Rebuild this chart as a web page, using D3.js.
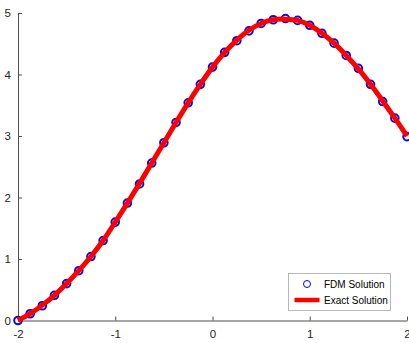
<!DOCTYPE html>
<html>
<head>
<meta charset="utf-8">
<script src="https://cdn.jsdelivr.net/npm/d3@7"></script>
<style>
  body { margin: 0; background: #fff; }
  svg { display: block; font-family: "Liberation Sans", Arial, sans-serif; }
</style>
</head>
<body>
<div id="chart"></div>
<script>
// grid points (h = 0.125)
const xValues = [-2, -1.875, -1.75, -1.625, -1.5, -1.375, -1.25, -1.125, -1,
  -0.875, -0.75, -0.625, -0.5, -0.375, -0.25, -0.125, 0,
  0.125, 0.25, 0.375, 0.5, 0.625, 0.75, 0.875, 1,
  1.125, 1.25, 1.375, 1.5, 1.625, 1.75, 1.875, 2];

// FDM solution
const fdmValues = [0, 0.11, 0.24, 0.41, 0.60, 0.81, 1.04, 1.30, 1.60,
  1.91, 2.22, 2.56, 2.89, 3.22, 3.54, 3.84, 4.12,
  4.36, 4.55, 4.71, 4.83, 4.89, 4.91, 4.88, 4.80,
  4.67, 4.51, 4.31, 4.10, 3.84, 3.56, 3.29, 2.99];

// exact solution (red curve)
const exactValues = [0, 0.11, 0.25, 0.41, 0.60, 0.81, 1.04, 1.30, 1.60,
  1.91, 2.23, 2.56, 2.89, 3.22, 3.54, 3.84, 4.12,
  4.36, 4.56, 4.72, 4.83, 4.89, 4.90, 4.88, 4.80,
  4.67, 4.51, 4.31, 4.09, 3.84, 3.57, 3.29, 3.00];

const xTicks = [-2, -1, 0, 1, 2];
const yTicks = [0, 1, 2, 3, 4, 5];
const legendLabels = ["FDM Solution", "Exact Solution"];

const width = 409, height = 343;

const svg = d3.select("#chart").append("svg")
    .attr("width", width)
    .attr("height", height);

const x = d3.scaleLinear().domain([-2, 2]).range([18, 407]);
const y = d3.scaleLinear().domain([0, 5]).range([320.5, 13]);

// plain hyphen for negatives, like the original
const fmt = d => String(d);

// axes (MATLAB style ticks pointing inward)
const xAxis = svg.append("g")
    .attr("transform", `translate(0,${y(0)})`)
    .call(d3.axisBottom(x).tickValues(xTicks).tickFormat(fmt)
        .tickSizeInner(-4).tickSizeOuter(0).tickPadding(9));

const yAxis = svg.append("g")
    .attr("transform", `translate(${x(-2)},0)`)
    .call(d3.axisLeft(y).tickValues(yTicks).tickFormat(fmt)
        .tickSizeInner(-4).tickSizeOuter(0).tickPadding(7));

[xAxis, yAxis].forEach(g => {
    g.select(".domain").attr("stroke", "#4d4d4d");
    g.selectAll(".tick line").attr("stroke", "#4d4d4d");
    g.selectAll(".tick text")
        .attr("fill", "#262626")
        .style("font-size", "11.5px")
        .style("font-family", "'Liberation Sans', Arial, sans-serif");
});

const fdm = xValues.map((d, i) => ({x: d, y: fdmValues[i]}));
const exact = xValues.map((d, i) => ({x: d, y: exactValues[i]}));

// circles first, red curve drawn over them
svg.append("g").selectAll("circle")
    .data(fdm)
    .enter().append("circle")
    .attr("cx", d => x(d.x))
    .attr("cy", d => y(d.y))
    .attr("r", 3.8)
    .attr("fill", "none")
    .attr("stroke", "#0a0ae6")
    .attr("stroke-width", 2);

const line = d3.line()
    .x(d => x(d.x))
    .y(d => y(d.y))
    .curve(d3.curveCatmullRom);

svg.append("path")
    .datum(exact)
    .attr("d", line)
    .attr("fill", "none")
    .attr("stroke", "#ff0000")
    .attr("stroke-width", 5)
    .attr("stroke-linejoin", "round");

// legend
const legend = svg.append("g").attr("transform", "translate(288.5,273.5)");
legend.append("rect")
    .attr("width", 102)
    .attr("height", 37)
    .attr("fill", "#fff")
    .attr("stroke", "#a6a6a6")
    .attr("stroke-width", 0.8);

legend.append("circle")
    .attr("cx", 18.5)
    .attr("cy", 10.5)
    .attr("r", 3.5)
    .attr("fill", "none")
    .attr("stroke", "#0000ff")
    .attr("stroke-width", 1);

legend.append("line")
    .attr("x1", 6).attr("x2", 31)
    .attr("y1", 26.5).attr("y2", 26.5)
    .attr("stroke", "#ff0000")
    .attr("stroke-width", 4.5);

legend.selectAll("text.lbl")
    .data(legendLabels)
    .enter().append("text")
    .attr("class", "lbl")
    .attr("x", 35.5)
    .attr("y", (d, i) => 10.5 + i * 16)
    .attr("dy", "0.35em")
    .attr("fill", "#000")
    .style("font-size", "10px")
    .text(d => d);
</script>
</body>
</html>
